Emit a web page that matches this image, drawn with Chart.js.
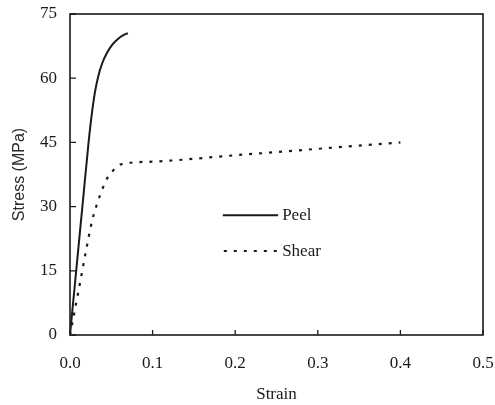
<!DOCTYPE html>
<html>
<head>
<meta charset="utf-8">
<script src="https://cdn.jsdelivr.net/npm/chart.js@4/dist/chart.umd.min.js"></script>
<style>
html,body{margin:0;padding:0;background:#fff;}
#wrap{width:495px;height:405px;position:relative;}
</style>
</head>
<body>
<div id="wrap"><canvas id="c" width="495" height="405"></canvas></div>
<script>
// Data
const peelStrain = [0, 0.0075, 0.015, 0.0225, 0.026, 0.030, 0.034, 0.039, 0.045, 0.051, 0.057, 0.064, 0.070];
const peelStress = [0, 15, 30, 45, 51, 56.5, 60.3, 63.5, 66, 67.8, 69, 70, 70.5];
const shearStrain = [0, 0.010, 0.020, 0.027, 0.032, 0.039, 0.045, 0.052, 0.062, 0.100, 0.200, 0.300, 0.400];
const shearStress = [0, 10, 20.3, 26.9, 30.2, 34.0, 36.6, 38.4, 39.9, 40.5, 42.0, 43.5, 45];
const xTicks = [0, 0.1, 0.2, 0.3, 0.4, 0.5];
const yTicks = [0, 15, 30, 45, 60, 75];
const seriesNames = ['Peel', 'Shear'];

const toPts = (xs, ys) => xs.map((x, i) => ({x: x, y: ys[i]}));
const FONT = '"Liberation Serif", "Times New Roman", serif';
const SANS = '"Liberation Sans", Arial, sans-serif';
const INK = '#1a1a1a';

const frameAndTicks = {
  id: 'frameAndTicks',
  afterDraw(chart) {
    const {ctx, chartArea: a, scales} = chart;
    ctx.save();
    ctx.strokeStyle = INK;
    ctx.lineWidth = 1.6;
    ctx.strokeRect(a.left, a.top, a.right - a.left, a.bottom - a.top);
    ctx.lineWidth = 1.3;
    ctx.beginPath();
    xTicks.forEach(v => {
      const px = scales.x.getPixelForValue(v);
      ctx.moveTo(px, a.bottom); ctx.lineTo(px, a.bottom - 5);
    });
    yTicks.forEach(v => {
      const py = scales.y.getPixelForValue(v);
      ctx.moveTo(a.left, py); ctx.lineTo(a.left + 6, py);
    });
    ctx.stroke();
    // legend
    const lx0 = scales.x.getPixelForValue(0.185), lx1 = scales.x.getPixelForValue(0.252);
    const ly1 = scales.y.getPixelForValue(28.0), ly2 = scales.y.getPixelForValue(19.6);
    ctx.lineWidth = 2;
    ctx.beginPath(); ctx.moveTo(lx0, ly1); ctx.lineTo(lx1, ly1); ctx.stroke();
    ctx.setLineDash([3, 7]);
    ctx.beginPath(); ctx.moveTo(lx0 + 1, ly2); ctx.lineTo(lx1, ly2); ctx.stroke();
    ctx.setLineDash([]);
    ctx.fillStyle = INK;
    ctx.font = '17px ' + FONT;
    ctx.textBaseline = 'middle';
    ctx.textAlign = 'left';
    ctx.fillText(seriesNames[0], lx1 + 4, ly1);
    ctx.fillText(seriesNames[1], lx1 + 4, ly2);
    ctx.restore();
  }
};

new Chart(document.getElementById('c'), {
  type: 'scatter',
  data: {
    datasets: [
      {label: seriesNames[0], data: toPts(peelStrain, peelStress), showLine: true,
       borderColor: INK, borderWidth: 2, pointRadius: 0, cubicInterpolationMode: 'monotone', fill: false},
      {label: seriesNames[1], data: toPts(shearStrain, shearStress), showLine: true,
       borderColor: INK, borderWidth: 2.2, borderDash: [3, 7], pointRadius: 0, cubicInterpolationMode: 'monotone', fill: false}
    ]
  },
  options: {
    responsive: false,
    animation: false,
    layout: {padding: {top: 14, right: 12, left: 0, bottom: 0}},
    plugins: {legend: {display: false}, tooltip: {enabled: false}},
    scales: {
      x: {
        type: 'linear', min: 0, max: 0.5,
        afterBuildTicks: s => { s.ticks = xTicks.map(v => ({value: v})); },
        afterFit: s => { s.height = 70; s.paddingLeft = 0; s.paddingRight = 0; },
        grid: {display: false, drawTicks: false},
        border: {display: false},
        ticks: {color: INK, font: {family: FONT, size: 17}, padding: 18, maxRotation: 0,
                callback: v => Number(v).toFixed(1)},
        title: {display: true, text: 'Strain', color: INK, font: {family: FONT, size: 17}, padding: {top: 0, bottom: 0}}
      },
      y: {
        type: 'linear', min: 0, max: 75,
        afterBuildTicks: s => { s.ticks = yTicks.map(v => ({value: v})); },
        afterFit: s => { s.width = 70; s.paddingTop = 0; s.paddingBottom = 0; },
        grid: {display: false, drawTicks: false},
        border: {display: false},
        ticks: {color: INK, font: {family: FONT, size: 17}, padding: 13},
        title: {display: true, text: 'Stress (MPa)', color: '#2a2a2a', font: {family: SANS, size: 16}, padding: {top: 10, bottom: 0}}
      }
    }
  },
  plugins: [frameAndTicks]
});
</script>
</body>
</html>
